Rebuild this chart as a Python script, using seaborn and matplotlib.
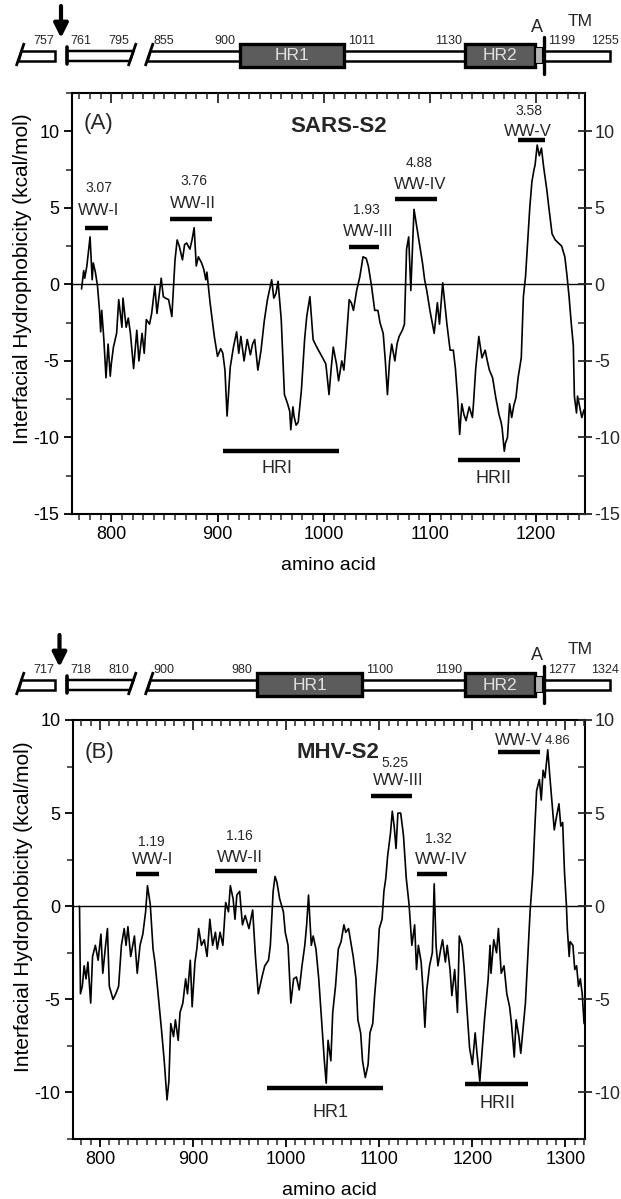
import numpy as np
import pandas as pd
import seaborn as sns
import matplotlib
matplotlib.use("Agg")
import matplotlib.pyplot as plt
from matplotlib.patches import Rectangle, Polygon
from matplotlib.ticker import MultipleLocator

# ---------------- data: panel A (SARS-S2) ----------------
sars_pos = [772, 774, 775, 777, 780, 782, 783, 785, 787, 789, 790, 791, 793, 795, 797, 799, 800, 802,
            805, 807, 810, 811, 814, 816, 818, 821, 824, 826, 829, 831, 833, 836, 838, 841, 843, 847,
            849, 851, 854, 857, 860, 862, 864, 867, 869, 871, 874, 876, 878, 880, 882, 885, 887, 889,
            890, 893, 897, 900, 903, 905, 907, 909, 912, 915, 918, 920, 922, 925, 928, 931, 933, 935,
            938, 941, 944, 947, 951, 953, 955, 957, 960, 963, 966, 968, 969, 971, 972, 974, 976, 979,
            982, 984, 987, 990, 992, 995, 999, 1002, 1005, 1007, 1009, 1012, 1014, 1017, 1019, 1021,
            1024, 1026, 1028, 1031, 1034, 1037, 1040, 1042, 1045, 1048, 1051, 1053, 1056, 1058, 1060,
            1062, 1064, 1067, 1069, 1071, 1074, 1076, 1078, 1080, 1082, 1085, 1088, 1091, 1093, 1095,
            1097, 1100, 1104, 1107, 1109, 1112, 1116, 1119, 1122, 1124, 1126, 1128, 1130, 1132, 1134,
            1137, 1140, 1141, 1143, 1146, 1149, 1152, 1154, 1156, 1159, 1162, 1165, 1167, 1168, 1170,
            1171, 1173, 1175, 1177, 1179, 1181, 1183, 1186, 1188, 1190, 1192, 1194, 1196, 1198, 1199,
            1201, 1203, 1205, 1207, 1210, 1212, 1215, 1218, 1221, 1224, 1227, 1229, 1231, 1233, 1235,
            1236, 1238, 1239, 1241, 1243, 1245]
sars_val = [-0.3, 0.9, 0.4, 1.2, 3.1, 0.3, 1.4, 0.8, -0.1, -1.8, -3.1, -1.7, -3.6, -6.1, -3.9, -6.0, -5.2, -4.1,
            -3.2, -1.0, -2.8, -0.9, -2.8, -2.2, -3.2, -5.5, -3.0, -5.0, -3.2, -4.5, -2.3, -2.6, -1.9, -0.1, -1.9, 0.4,
            -0.8, -0.9, -1.0, -2.1, 1.6, 2.9, 2.5, 1.6, 2.6, 2.7, 2.3, 2.9, 3.7, 1.2, 1.8, 1.4, 1.0, 0.3,
            0.8, -1.2, -3.4, -4.7, -4.2, -4.5, -5.6, -8.6, -5.4, -4.1, -3.1, -4.5, -3.4, -5.0, -3.6, -4.6, -3.9, -3.6,
            -5.6, -4.3, -2.4, -1.0, 0.3, -0.9, -0.6, 0.2, -2.3, -7.2, -7.8, -8.3, -9.5, -8.0, -8.6, -9.2, -9.0, -6.9,
            -3.6, -2.1, -0.8, -3.6, -3.9, -4.3, -4.8, -5.2, -7.2, -5.5, -4.1, -5.2, -6.3, -5.0, -5.6, -3.9,
            -1.0, -1.2, -1.7, -0.4, 0.5, 1.8, 1.7, 1.2, -0.1, -1.7, -1.7, -2.5, -3.2, -5.0, -7.2,
            -5.0, -3.9, -5.0, -3.9, -3.4, -3.0, -2.6, 2.3, 3.1, -0.4, 4.9, 3.6, 2.3, 1.4, 0.3,
            -0.4, -1.7, -3.2, -1.2, -2.6, 0.1, -2.6, -4.3, -4.3, -5.5, -7.4, -9.8, -7.8, -8.5, -8.9,
            -8.0, -8.7, -7.8, -5.6, -3.4, -4.8, -4.3, -5.0, -5.6, -6.1, -7.4, -8.5, -9.0, -9.4, -10.9,
            -10.4, -10.0, -7.8, -8.7, -7.9, -7.4, -6.1, -4.8, -0.8, 0.5, 2.7, 5.0, 6.7, 7.5, 7.8,
            9.1, 8.4, 8.9, 7.7, 6.2, 5.0, 3.3, 2.9, 2.7, 2.5, 1.8, 0.6, -0.8, -2.5, -4.0,
            -7.3, -8.4, -7.3, -8.0, -8.7, -8.2]

# ---------------- data: panel B (MHV-S2) ----------------
mhv_pos = [778, 779, 781, 783, 785, 787, 790, 792, 795, 798, 801, 803, 806, 808, 810, 814, 817, 820,
           823, 826, 828, 830, 833, 837, 840, 843, 846, 849, 851, 854, 857, 859, 862, 866, 869, 872,
           874, 876, 879, 881, 884, 886, 889, 892, 894, 897, 899, 902, 904, 906, 909, 912, 915, 918,
           921, 924, 926, 929, 932, 935, 938, 940, 943, 945, 947, 950, 953, 956, 960, 964, 967, 970,
           974, 977, 981, 983, 986, 988, 990, 993, 997, 999, 1002, 1005, 1008, 1011, 1014, 1017, 1020,
           1022, 1024, 1027, 1029, 1032, 1035, 1038, 1041, 1043, 1045, 1048, 1050, 1053, 1056, 1059,
           1062, 1064, 1067, 1070, 1072, 1075, 1077, 1080, 1082, 1085, 1088, 1090, 1093, 1095, 1098,
           1100, 1103, 1105, 1107, 1109, 1112, 1114, 1116, 1118, 1120, 1123, 1126, 1129, 1132, 1135,
           1138, 1140, 1142, 1145, 1147, 1149, 1151, 1154, 1157, 1159, 1161, 1163, 1166, 1168, 1171,
           1173, 1176, 1178, 1181, 1184, 1186, 1189, 1191, 1194, 1197, 1200, 1203, 1205, 1208, 1210,
           1213, 1217, 1219, 1220, 1223, 1226, 1228, 1231, 1234, 1237, 1240, 1242, 1245, 1247, 1250,
           1252, 1254, 1257, 1259, 1262, 1263, 1265, 1267, 1269, 1272, 1274, 1276, 1278, 1281, 1283,
           1286, 1288, 1290, 1293, 1295, 1297, 1299, 1301, 1302, 1304, 1305, 1308, 1310, 1312, 1314,
           1316, 1318, 1320]
mhv_val = [0.0, -4.7, -4.3, -3.2, -3.9, -3.0, -5.2, -2.7, -2.1, -2.9, -1.5, -3.6, -2.1, -1.2, -4.3, -5.0, -4.7, -4.3,
           -2.1, -1.2, -2.1, -1.1, -2.7, -1.6, -3.6, -2.1, -1.5, -0.3, 1.1, 0.1, -2.3, -3.0, -4.5, -6.6, -8.3, -10.4,
           -9.4, -6.3, -7.0, -6.1, -7.2, -5.7, -5.2, -3.9, -4.7, -2.9, -5.4, -3.0, -2.3, -1.2, -2.1, -1.8, -2.7, -0.7,
           -2.1, -1.4, -2.3, -1.4, -2.1, 0.2, -0.3, 1.1, 0.4, -0.7, 0.6, 0.8, -1.0, -0.5, -1.2, -0.2, -2.7, -4.7,
           -3.8, -3.2, -2.9, -2.1, 0.8, 1.6, 1.3, 0.4, -0.3, -1.4, -2.1, -5.2, -3.9, -3.8, -4.5, -3.2, -2.1,
           -1.0, 0.6, -2.1, -1.6, -2.3, -3.9, -6.1, -8.3, -9.5, -7.2, -8.3, -5.7, -4.3, -2.3, -1.9,
           -1.0, -1.4, -1.2, -2.1, -2.7, -3.9, -6.1, -6.8, -8.3, -9.2, -8.5, -6.8, -6.3, -4.8, -3.0,
           -1.2, -0.7, 0.8, 1.5, 2.7, 3.9, 5.1, 4.3, 3.1, 5.0, 5.0, 3.8, 1.5, 0.1, -2.1,
           -1.0, -3.4, -2.1, -3.0, -4.5, -6.5, -4.5, -3.2, -2.5, 1.2, -2.1, -3.2, -2.3, -1.8, -3.0,
           -2.1, -3.4, -4.8, -3.4, -5.7, -1.6, -2.1, -3.2, -5.4, -7.6, -8.5, -6.8, -7.9, -9.4, -8.1,
           -6.1, -3.9, -2.1, -3.6, -1.8, -2.5, -1.2, -3.6, -3.2, -4.7, -5.4, -6.3, -8.1, -6.1, -7.0,
           -7.9, -6.8, -5.2, -3.2, -0.3, 0.4, 1.8, 4.1, 6.2, 6.8, 5.7, 7.3, 6.9, 8.4, 7.1,
           5.3, 4.1, 4.7, 5.5, 4.3, 4.5, 1.8, 0.1, -1.2, -2.7, -1.9, -2.1, -3.4, -3.2, -4.3,
           -3.9, -4.7, -6.3]

# ---------------- annotation data ----------------
ww_names = ["WW-I", "WW-II", "WW-III", "WW-IV", "WW-V"]
sars_ww_start = [775, 855, 1024, 1067, 1183]
sars_ww_end = [797, 895, 1052, 1107, 1208]
sars_ww_level = [3.7, 4.3, 2.45, 5.55, 9.4]
sars_ww_score = ["3.07", "3.76", "1.93", "4.88", "3.58"]
sars_hr_names = ["HRI", "HRII"]
sars_hr_start = [905, 1126]
sars_hr_end = [1014, 1185]
sars_hr_level = [-10.9, -11.5]

mhv_ww_start = [839, 924, 1091, 1140, 1228]
mhv_ww_end = [863, 969, 1135, 1173, 1273]
mhv_ww_level = [1.75, 1.9, 5.9, 1.75, 8.3]
mhv_ww_score = ["1.19", "1.16", "5.25", "1.32", "4.86"]
mhv_hr_names = ["HR1", "HRII"]
mhv_hr_start = [979, 1192]
mhv_hr_end = [1104, 1260]
mhv_hr_level = [-9.76, -9.55]

sars_schema_nums = ["757", "761", "795", "855", "900", "1011", "1130", "1199", "1255"]
mhv_schema_nums = ["717", "718", "810", "900", "980", "1100", "1190", "1277", "1324"]

# ---------------- style ----------------
sns.set_theme(style="ticks")
plt.rcParams["font.family"] = ["Liberation Sans", "DejaVu Sans"]
plt.rcParams["axes.unicode_minus"] = False

W, H = 621, 1199
fig = plt.figure(figsize=(W / 100, H / 100), dpi=100)
fig.patch.set_facecolor("white")


def px_axes(l, r, t, b):
    return fig.add_axes([l / W, 1 - b / H, (r - l) / W, (b - t) / H])


axA = px_axes(72, 585, 93, 514)
axB = px_axes(73, 585, 720, 1139)

TICK_FS = 13


def style(ax, xlim, ylim):
    ax.set_xlim(*xlim)
    ax.set_ylim(*ylim)
    ax.xaxis.set_major_locator(MultipleLocator(100))
    ax.xaxis.set_minor_locator(MultipleLocator(10))
    ax.yaxis.set_major_locator(MultipleLocator(5))
    ax.yaxis.set_minor_locator(MultipleLocator(2.5))
    ax.tick_params(axis="both", which="major", direction="out", length=6, width=1.3,
                   labelsize=TICK_FS, colors="black", pad=3)
    ax.tick_params(axis="both", which="minor", direction="out", length=4, width=1.1)
    for s in ax.spines.values():
        s.set_visible(True)
        s.set_linewidth(1.5)
        s.set_color("black")
    ax.axhline(0, color="black", lw=1.0, zorder=1)
    # right axis
    axr = ax.twinx()
    axr.set_ylim(*ylim)
    axr.yaxis.set_major_locator(MultipleLocator(5))
    axr.yaxis.set_minor_locator(MultipleLocator(2.5))
    axr.tick_params(axis="y", which="major", direction="inout", length=10, width=1.3,
                    labelsize=TICK_FS, pad=2)
    axr.tick_params(axis="y", which="minor", direction="in", length=5, width=1.1)
    for s in axr.spines.values():
        s.set_visible(False)
    # top axis
    axt = ax.twiny()
    axt.set_xlim(*xlim)
    axt.xaxis.set_major_locator(MultipleLocator(100))
    axt.xaxis.set_minor_locator(MultipleLocator(10))
    axt.tick_params(axis="x", which="major", direction="in", length=7, width=1.3,
                    labeltop=False, top=True)
    axt.tick_params(axis="x", which="minor", direction="in", length=4, width=1.1)
    for s in axt.spines.values():
        s.set_visible(False)


style(axA, (763, 1246), (-15, 12.5))
style(axB, (771, 1321), (-12.5, 10))

dfA = pd.DataFrame({"pos": sars_pos, "val": sars_val})
dfB = pd.DataFrame({"pos": mhv_pos, "val": mhv_val})
sns.lineplot(data=dfA, x="pos", y="val", ax=axA, color="black", linewidth=1.2,
             estimator=None, sort=False, legend=False)
sns.lineplot(data=dfB, x="pos", y="val", ax=axB, color="black", linewidth=1.2,
             estimator=None, sort=False, legend=False)
for ax, ly in ((axA, 0.56), (axB, 0.555)):
    ax.set_xlabel("amino acid", fontsize=14, labelpad=10, color="black")
    ax.set_ylabel("Interfacial Hydrophobicity (kcal/mol)", fontsize=15, color="black")
    ax.yaxis.set_label_coords(-0.078, ly)

# ---------------- annotations panel A ----------------
axA.hlines(sars_ww_level, sars_ww_start, sars_ww_end, color="black", lw=3.2)
axA.hlines(sars_hr_level, sars_hr_start, sars_hr_end, color="black", lw=3.2)
a_name_xy = [(788, 4.85), (877, 5.25), (1042, 3.45), (1091, 6.5), (1192, 10.0)]
a_score_xy = [(788, 6.3), (878, 6.75), (1040, 4.85), (1090, 7.95), (1193, 11.3)]
for name, sc, (nx, ny), (sx, sy) in zip(ww_names, sars_ww_score, a_name_xy, a_score_xy):
    axA.text(nx, ny, name, ha="center", va="center", fontsize=12)
    axA.text(sx, sy, sc, ha="center", va="center", fontsize=10)
axA.text(956, -12.05, sars_hr_names[0], ha="center", va="center", fontsize=13)
axA.text(1160, -12.65, sars_hr_names[1], ha="center", va="center", fontsize=13)
axA.text(788, 10.5, "(A)", ha="center", va="center", fontsize=16)
axA.text(1014, 10.3, "SARS-S2", ha="center", va="center", fontsize=16, fontweight="bold")

# ---------------- annotations panel B ----------------
axB.hlines(mhv_ww_level, mhv_ww_start, mhv_ww_end, color="black", lw=3.2)
axB.hlines(mhv_hr_level, mhv_hr_start, mhv_hr_end, color="black", lw=3.2)
b_name_xy = [(857, 2.5), (950, 2.6), (1120, 6.75), (1166, 2.5), (1250, 8.9)]
b_score_xy = [(855, 3.45), (950, 3.75), (1117, 7.7), (1164, 3.6), (1292, 8.85)]
for i, (name, sc, (nx, ny), (sx, sy)) in enumerate(zip(ww_names, mhv_ww_score, b_name_xy, b_score_xy)):
    axB.text(nx, ny, name, ha="center", va="center", fontsize=12)
    axB.text(sx, sy, sc, ha="center", va="center", fontsize=10 if i < 4 else 9.5)
axB.text(1048, -11.1, mhv_hr_names[0], ha="center", va="center", fontsize=13)
axB.text(1227, -10.6, mhv_hr_names[1], ha="center", va="center", fontsize=13)
axB.text(799, 8.25, "(B)", ha="center", va="center", fontsize=16)
axB.text(1056, 8.25, "MHV-S2", ha="center", va="center", fontsize=16, fontweight="bold")

# ---------------- domain schematics (pixel layout overlay) ----------------
ov = fig.add_axes([0, 0, 1, 1], zorder=10)
ov.set_xlim(0, W)
ov.set_ylim(H, 0)
ov.axis("off")
ov.patch.set_alpha(0)

SL = 0.345  # slant dx per dy of break marks


def bar_piece(x0, x1, y0, left_slant, right_slant):
    top, bot = y0 + 51, y0 + 61
    xl_b, xl_t = (x0, x0 + 10 * SL) if left_slant else (x0, x0)
    xr_b, xr_t = (x1, x1 + 10 * SL) if right_slant else (x1, x1)
    ov.add_patch(Polygon([(xl_t, top), (xr_t, top), (xr_b, bot), (xl_b, bot)], closed=True,
                         facecolor="white", edgecolor="black", lw=1.8, zorder=2))
    for flag, xb in ((left_slant, x0), (right_slant, x1)):
        if flag:
            ov.plot([xb - 5 * SL, xb + 18 * SL], [y0 + 66, y0 + 43], color="black", lw=2.0,
                    solid_capstyle="butt", zorder=3)
    if not left_slant:
        ov.plot([x0, x0], [y0 + 47, y0 + 64], color="black", lw=2.6, zorder=3)


def schema(y0, nums, hr1, arrow_x):
    bar_piece(18, 55, y0, True, False)
    bar_piece(67, 130, y0, False, True)
    bar_piece(147, 610, y0, True, False)
    for (xa, xb), lab in ((hr1, "HR1"), ((465, 535), "HR2")):
        ov.add_patch(Rectangle((xa, y0 + 44), xb - xa, 23, facecolor="#5c5c5c",
                               edgecolor="black", lw=2.4, zorder=4))
        ov.text((xa + xb) / 2, y0 + 56, lab, ha="center", va="center", fontsize=12.5,
                color="#e2e2e2", zorder=5)
    ov.add_patch(Rectangle((535, y0 + 47), 7, 16, facecolor="#b4b4b4", edgecolor="black",
                           lw=0.8, zorder=4))
    ov.plot([543.5, 543.5], [y0 + 37, y0 + 74], color="black", lw=2.4, zorder=5)
    ov.text(537, y0 + 27, "A", ha="center", va="center", fontsize=13)
    ov.text(580, y0 + 21, "TM", ha="center", va="center", fontsize=12.5)
    ov.annotate("", xy=(arrow_x, y0 + 38), xytext=(arrow_x, y0 + 6),
                arrowprops=dict(arrowstyle="-|>,head_length=0.7,head_width=0.35", lw=3,
                                color="black", shrinkA=0, shrinkB=0), zorder=6)
    anchors = [(54, "right"), (70, "left"), (129, "right"), (153, "left"),
               (hr1[0] - 5, "right"), (hr1[1] + 4, "left"), (462, "right"), (548, "left"), (619, "right")]
    for t, (x, ha) in zip(nums, anchors):
        ov.text(x, y0 + 41, t, ha=ha, va="center", fontsize=9)


schema(0, sars_schema_nums, (240, 344), 61)
schema(629, mhv_schema_nums, (257, 362), 59.5)

fig.savefig("out.png", dpi=100)
